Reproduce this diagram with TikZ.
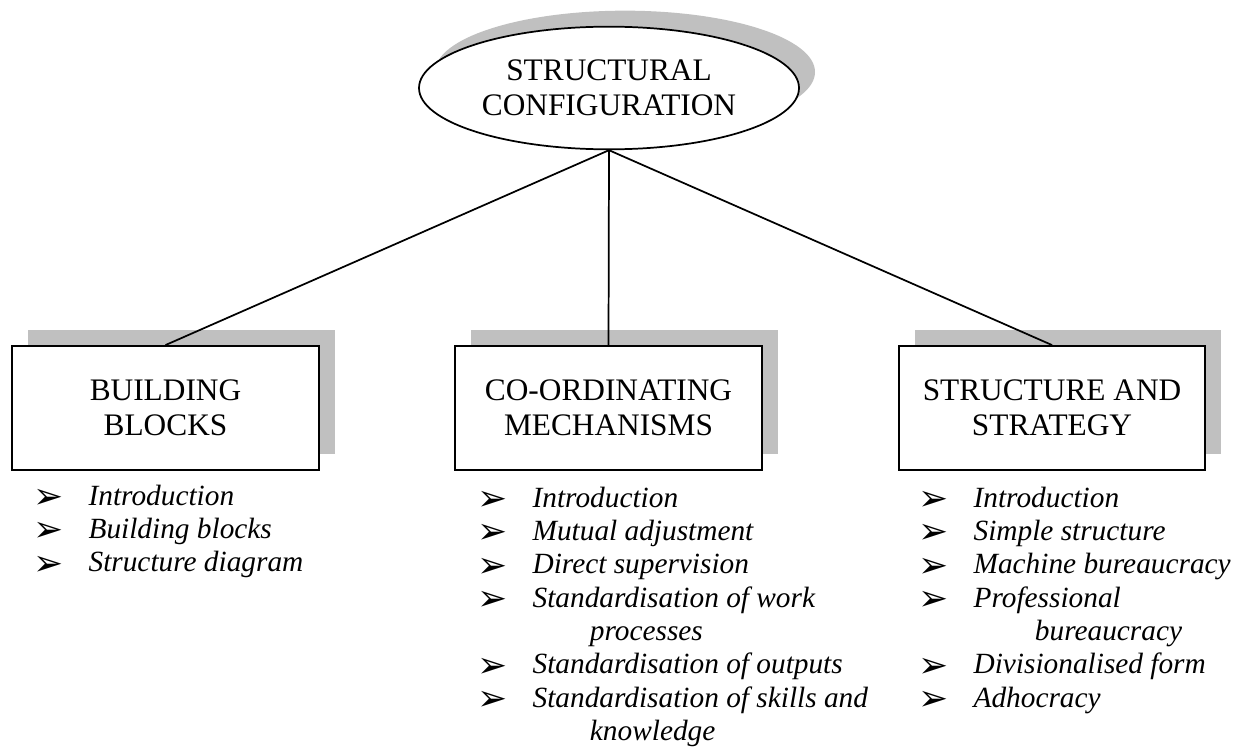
\documentclass[tikz,border=0pt]{standalone}
\usepackage{fontspec}
\setmainfont{Liberation Serif}
\newfontfamily\symfont{DejaVu Sans}
\usetikzlibrary{shapes.geometric,shadows}
\definecolor{shadowgray}{RGB}{192,192,192}
\newcommand{\bul}{\makebox[41.5pt][l]{\raisebox{-2.5pt}[0pt][0pt]{\symfont\fontsize{27}{27}\selectfont ➢}}}
\begin{document}
\begin{tikzpicture}[x=0.75pt,y=-0.75pt,
  hfont/.style={font=\fontsize{23.5}{26}\selectfont},
  sh/.style={copy shadow={shadow xshift=12pt, shadow yshift=12pt, fill=shadowgray, draw=none}},
  topnode/.style={ellipse, draw, line width=1.3pt, fill=white, minimum width=285pt,
    minimum height=92pt, inner sep=0pt, align=center, hfont, sh},
  boxnode/.style={rectangle, draw, line width=1.4pt, fill=white, minimum width=230pt,
    minimum height=93pt, inner sep=0pt, align=center, hfont, sh},
  listnode/.style={anchor=base west, inner sep=0pt, font=\fontsize{22}{25}\selectfont},
  link/.style={line width=1.3pt}]
\useasboundingbox (0,0) rectangle (1244,749);

\node[topnode] (top) at (609,88) {STRUCTURAL\\CONFIGURATION};

\node[boxnode] (bb) at (165.5,408) {BUILDING\\BLOCKS};
\node[boxnode] (cm) at (608.5,408) {CO-ORDINATING\\MECHANISMS};
\node[boxnode] (ss) at (1052,408) {STRUCTURE AND\\STRATEGY};

\draw[link] (top.south) -- (bb.north);
\draw[link] (top.south) -- (cm.north);
\draw[link] (top.south) -- (ss.north);

\node[listnode] (bbl) at (33,505) {\begin{tabular}[t]{@{}l@{}l@{}}
\bul & \textit{Introduction}\\
\bul & \textit{Building blocks}\\
\bul & \textit{Structure diagram}
\end{tabular}};

\node[listnode] (cml) at (477,507) {\begin{tabular}[t]{@{}l@{}l@{}}
\bul & \textit{Introduction}\\
\bul & \textit{Mutual adjustment}\\
\bul & \textit{Direct supervision}\\
\bul & \textit{Standardisation of work}\\
 & \hspace*{43pt}\textit{processes}\\
\bul & \textit{Standardisation of outputs}\\
\bul & \textit{Standardisation of skills and}\\
 & \hspace*{43pt}\textit{knowledge}
\end{tabular}};

\node[listnode] (ssl) at (918,507) {\begin{tabular}[t]{@{}l@{}l@{}}
\bul & \textit{Introduction}\\
\bul & \textit{Simple structure}\\
\bul & \textit{Machine bureaucracy}\\
\bul & \textit{Professional}\\
 & \hspace*{46pt}\textit{bureaucracy}\\
\bul & \textit{Divisionalised form}\\
\bul & \textit{Adhocracy}
\end{tabular}};
\end{tikzpicture}
\end{document}
